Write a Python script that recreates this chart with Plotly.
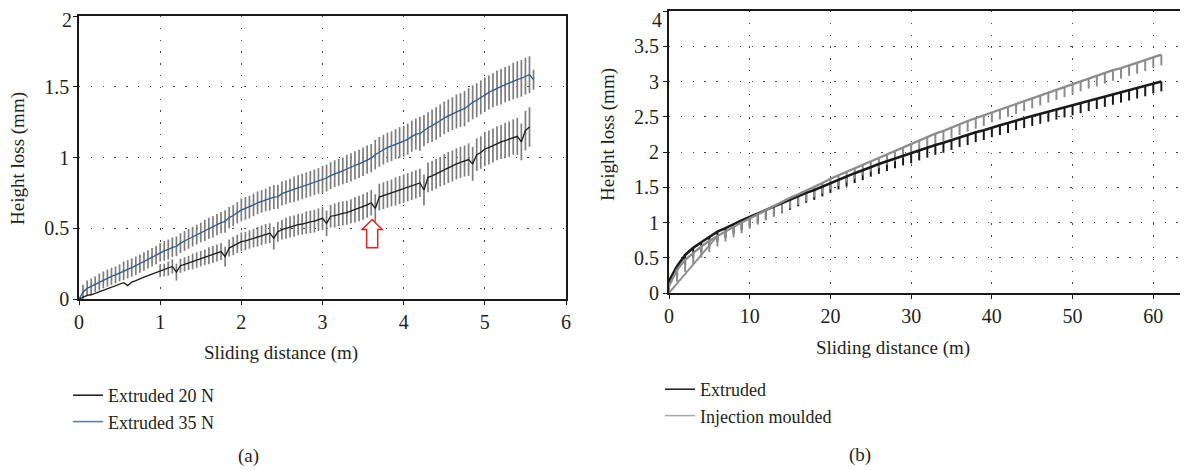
import plotly.graph_objects as go

# ---------------- data: panel (a) ----------------
dist_a = [round(0.05 * i, 2) for i in range(113)]

ext35 = [0.000, 0.050, 0.075, 0.090, 0.105, 0.120, 0.135, 0.148, 0.160, 0.170,
         0.185, 0.200, 0.210, 0.222, 0.235, 0.250, 0.265, 0.280, 0.295, 0.310,
         0.330, 0.340, 0.350, 0.365, 0.372, 0.395, 0.410, 0.425, 0.440, 0.455,
         0.470, 0.485, 0.500, 0.510, 0.525, 0.540, 0.548, 0.575, 0.590, 0.610,
         0.630, 0.640, 0.650, 0.665, 0.680, 0.690, 0.700, 0.710, 0.720, 0.722,
         0.745, 0.755, 0.765, 0.775, 0.785, 0.795, 0.805, 0.815, 0.825, 0.835,
         0.845, 0.855, 0.872, 0.885, 0.895, 0.905, 0.920, 0.930, 0.945, 0.955,
         0.970, 0.985, 0.995, 1.020, 1.040, 1.055, 1.070, 1.080, 1.095, 1.105,
         1.115, 1.130, 1.150, 1.165, 1.168, 1.190, 1.210, 1.225, 1.240, 1.260,
         1.280, 1.295, 1.310, 1.325, 1.335, 1.345, 1.370, 1.390, 1.405, 1.425,
         1.445, 1.460, 1.475, 1.490, 1.500, 1.515, 1.525, 1.540, 1.550, 1.560,
         1.575, 1.585, 1.550]

ext35_err = [0.00, 0.05, 0.055, 0.055, 0.055, 0.06, 0.06, 0.06, 0.06, 0.06,
             0.06, 0.065, 0.065, 0.065, 0.065, 0.065, 0.065, 0.065, 0.065, 0.065,
             0.065, 0.07, 0.07, 0.07, 0.07, 0.07, 0.07, 0.07, 0.07, 0.07,
             0.07, 0.075, 0.075, 0.075, 0.075, 0.075, 0.08, 0.075, 0.075, 0.075,
             0.08, 0.08, 0.08, 0.08, 0.08, 0.08, 0.08, 0.085, 0.085, 0.085,
             0.085, 0.085, 0.085, 0.09, 0.09, 0.09, 0.09, 0.09, 0.09, 0.09,
             0.095, 0.095, 0.095, 0.095, 0.095, 0.095, 0.10, 0.10, 0.10, 0.10,
             0.10, 0.10, 0.10, 0.105, 0.105, 0.105, 0.105, 0.105, 0.105, 0.11,
             0.11, 0.11, 0.11, 0.11, 0.12, 0.11, 0.11, 0.115, 0.115, 0.115,
             0.115, 0.115, 0.115, 0.12, 0.12, 0.125, 0.12, 0.12, 0.12, 0.12,
             0.12, 0.12, 0.12, 0.125, 0.125, 0.125, 0.125, 0.13, 0.13, 0.13,
             0.13, 0.13, 0.07]

ext20 = [0.000, 0.015, 0.025, 0.030, 0.040, 0.050, 0.060, 0.070, 0.080, 0.090,
         0.100, 0.115, 0.095, 0.120, 0.130, 0.145, 0.155, 0.165, 0.175, 0.190,
         0.200, 0.205, 0.215, 0.230, 0.190, 0.235, 0.245, 0.255, 0.265, 0.275,
         0.285, 0.295, 0.305, 0.315, 0.325, 0.335, 0.300, 0.360, 0.375, 0.390,
         0.405, 0.410, 0.420, 0.430, 0.440, 0.450, 0.460, 0.465, 0.430, 0.475,
         0.490, 0.500, 0.510, 0.515, 0.525, 0.530, 0.540, 0.545, 0.550, 0.560,
         0.570, 0.535, 0.585, 0.590, 0.600, 0.605, 0.610, 0.620, 0.630, 0.640,
         0.650, 0.665, 0.680, 0.640, 0.720, 0.730, 0.740, 0.750, 0.760, 0.770,
         0.780, 0.790, 0.800, 0.810, 0.820, 0.770, 0.860, 0.870, 0.885, 0.900,
         0.915, 0.930, 0.940, 0.955, 0.965, 0.975, 0.985, 0.955, 1.020, 1.035,
         1.060, 1.070, 1.085, 1.100, 1.110, 1.120, 1.130, 1.145, 1.150, 1.110,
         1.190, 1.215]

ext20_err = [0, 0, 0, 0, 0, 0, 0, 0, 0, 0,
             0, 0, 0, 0, 0, 0, 0, 0, 0, 0,
             0.045, 0.045, 0.05, 0.05, 0.06, 0.05, 0.05, 0.05, 0.055, 0.055,
             0.055, 0.055, 0.06, 0.06, 0.06, 0.06, 0.07, 0.06, 0.065, 0.065,
             0.065, 0.065, 0.065, 0.065, 0.07, 0.07, 0.07, 0.07, 0.08, 0.07,
             0.07, 0.075, 0.075, 0.075, 0.075, 0.075, 0.08, 0.08, 0.08, 0.08,
             0.08, 0.09, 0.08, 0.085, 0.085, 0.085, 0.085, 0.085, 0.09, 0.09,
             0.09, 0.09, 0.09, 0.10, 0.095, 0.095, 0.095, 0.095, 0.10, 0.10,
             0.10, 0.10, 0.10, 0.10, 0.10, 0.11, 0.105, 0.105, 0.105, 0.105,
             0.11, 0.11, 0.11, 0.11, 0.11, 0.11, 0.115, 0.12, 0.115, 0.115,
             0.12, 0.12, 0.12, 0.12, 0.12, 0.125, 0.125, 0.125, 0.13, 0.13,
             0.14, 0.14]

ticks_a_y = [0, 0.5, 1, 1.5, 2]
ticklabels_a_y = ["0", "0.5", "1", "1.5", "2"]

# ---------------- data: panel (b) ----------------
dist_b = [0, 1, 2, 3, 4, 5, 6, 7, 8, 9, 10, 11, 12, 13, 14, 15, 16, 17, 18, 19,
          20, 21, 22, 23, 24, 25, 26, 27, 28, 29, 30, 31, 32, 33, 34, 35, 36, 37, 38, 39,
          40, 41, 42, 43, 44, 45, 46, 47, 48, 49, 50, 51, 52, 53, 54, 55, 56, 57, 58, 59,
          60, 61]

extruded = [0.17, 0.38, 0.54, 0.64, 0.72, 0.80, 0.87, 0.92, 0.98, 1.03,
            1.08, 1.13, 1.18, 1.23, 1.27, 1.32, 1.37, 1.42, 1.46, 1.51,
            1.56, 1.61, 1.65, 1.70, 1.74, 1.79, 1.83, 1.87, 1.91, 1.95,
            1.98, 2.02, 2.06, 2.10, 2.13, 2.17, 2.21, 2.24, 2.28, 2.31,
            2.35, 2.38, 2.41, 2.45, 2.48, 2.51, 2.54, 2.57, 2.60, 2.63,
            2.66, 2.69, 2.72, 2.75, 2.78, 2.81, 2.84, 2.87, 2.90, 2.93,
            2.97, 3.00]

extruded_err = [0.12, 0.14, 0.14, 0.14, 0.14, 0.14, 0.14, 0.14, 0.14, 0.14,
                0.14, 0.14, 0.14, 0.14, 0.14, 0.14, 0.14, 0.14, 0.14, 0.14,
                0.14, 0.14, 0.14, 0.14, 0.14, 0.14, 0.14, 0.14, 0.14, 0.14,
                0.14, 0.14, 0.14, 0.14, 0.14, 0.14, 0.14, 0.14, 0.14, 0.14,
                0.14, 0.14, 0.14, 0.14, 0.14, 0.14, 0.14, 0.14, 0.14, 0.14,
                0.14, 0.14, 0.14, 0.14, 0.14, 0.14, 0.14, 0.14, 0.14, 0.14,
                0.14, 0.14]

injection = [0.10, 0.33, 0.47, 0.57, 0.66, 0.74, 0.81, 0.88, 0.94, 1.00,
             1.06, 1.12, 1.18, 1.23, 1.29, 1.35, 1.40, 1.45, 1.51, 1.56,
             1.62, 1.67, 1.72, 1.77, 1.82, 1.87, 1.92, 1.97, 2.02, 2.07,
             2.12, 2.17, 2.21, 2.26, 2.30, 2.35, 2.39, 2.44, 2.48, 2.52,
             2.57, 2.61, 2.65, 2.69, 2.73, 2.77, 2.81, 2.85, 2.89, 2.93,
             2.97, 3.01, 3.05, 3.08, 3.12, 3.16, 3.19, 3.23, 3.26, 3.30,
             3.34, 3.38]

injection_err = [0.10, 0.17, 0.17, 0.17, 0.16, 0.16, 0.15, 0.15, 0.15, 0.15,
                 0.15, 0.15, 0.15, 0.15, 0.15, 0.15, 0.15, 0.15, 0.15, 0.15,
                 0.15, 0.15, 0.15, 0.15, 0.15, 0.15, 0.15, 0.15, 0.15, 0.15,
                 0.15, 0.15, 0.15, 0.15, 0.15, 0.15, 0.15, 0.15, 0.15, 0.15,
                 0.15, 0.15, 0.15, 0.15, 0.15, 0.15, 0.15, 0.15, 0.15, 0.15,
                 0.15, 0.15, 0.15, 0.15, 0.15, 0.15, 0.15, 0.15, 0.15, 0.15,
                 0.15, 0.15]

# initial straight segment of the injection moulded trace
injection_start_x = [0, 6]
injection_start_y = [0.0, 0.81]

ticks_b_y = [0, 0.5, 1, 1.5, 2, 2.5, 3, 3.5, 4]
ticklabels_b_y = ["0", "0.5", "1", "1.5", "2", "2.5", "3", "3.5", "4"]

legend_a = ["Extruded 20 N", "Extruded 35 N"]
legend_b = ["Extruded", "Injection moulded"]

# ---------------- styling ----------------
FONT = "Liberation Serif"
TXT = "#231f20"
BLUE = "#2d5a8c"
OFF = 8                      # page body margin offsets the figure by 8 px
W, H = 1188 - OFF, 470 - OFF

fig = go.Figure()

# panel (a) error bars (drawn first so lines lie on top)
for y, e in [(ext20, ext20_err), (ext35, ext35_err)]:
    fig.add_trace(go.Scatter(
        x=dist_a[:len(y)], y=y, mode="lines", line=dict(width=0, color="rgba(0,0,0,0)"),
        error_y=dict(type="data", array=e, color="#7d7d7d", thickness=1.7, width=0),
        showlegend=False, hoverinfo="skip", xaxis="x", yaxis="y"))

fig.add_trace(go.Scatter(
    x=dist_a[:len(ext20)], y=ext20, mode="lines", showlegend=False,
    line=dict(color="#1a1a1a", width=1.3), xaxis="x", yaxis="y"))
fig.add_trace(go.Scatter(
    x=dist_a, y=ext35, mode="lines", showlegend=False,
    line=dict(color=BLUE, width=1.3), xaxis="x", yaxis="y"))

# panel (b)
fig.add_trace(go.Scatter(
    x=dist_b, y=extruded, mode="lines", line=dict(width=0, color="rgba(0,0,0,0)"),
    error_y=dict(type="data", symmetric=False, array=[0] * len(extruded),
                 arrayminus=extruded_err, color="#1a1a1a", thickness=2, width=0),
    showlegend=False, hoverinfo="skip", xaxis="x2", yaxis="y2"))
fig.add_trace(go.Scatter(
    x=dist_b, y=injection, mode="lines", line=dict(width=0, color="rgba(0,0,0,0)"),
    error_y=dict(type="data", symmetric=False, array=[0] * len(injection),
                 arrayminus=injection_err, color="#8c8c8c", thickness=2, width=0),
    showlegend=False, hoverinfo="skip", xaxis="x2", yaxis="y2"))
fig.add_trace(go.Scatter(
    x=dist_b, y=extruded, mode="lines", showlegend=False,
    line=dict(color="#1a1a1a", width=2.6), xaxis="x2", yaxis="y2"))
fig.add_trace(go.Scatter(
    x=dist_b, y=injection, mode="lines", showlegend=False,
    line=dict(color="#8c8c8c", width=2.3), xaxis="x2", yaxis="y2"))
fig.add_trace(go.Scatter(
    x=injection_start_x, y=injection_start_y, mode="lines",
    line=dict(color="#8c8c8c", width=1.8), showlegend=False, hoverinfo="skip",
    xaxis="x2", yaxis="y2"))

# legend entries (thin line samples as in the reference)
for name, col, lg in [(legend_a[0], "#1a1a1a", "legend"), (legend_a[1], "#5a7aa3", "legend"),
                      (legend_b[0], "#1a1a1a", "legend2"), (legend_b[1], "#a6a6a6", "legend2")]:
    fig.add_trace(go.Scatter(x=[None], y=[None], mode="lines", name=name,
                             line=dict(color=col, width=1.5), legend=lg,
                             xaxis="x", yaxis="y"))

TICK_SIZE = 20
tickfont = dict(family=FONT, size=TICK_SIZE, color=TXT)
grid = dict(showgrid=True, gridcolor="#444444", gridwidth=1.3, griddash="1.3px,10.5px")


def px_x(v):
    return (v - OFF) / W


def px_y(v):
    return 1 - (v - OFF) / H


axis_common = dict(showline=True, linecolor="#1a1a1a", mirror=True, ticks="outside",
                   ticklen=4, tickcolor="#1a1a1a", zeroline=False, tickfont=tickfont,
                   automargin=False, **grid)

# the topmost y label would fall into the page margin, so it is set as a text placed just inside
fig.update_layout(
    template="none",
    width=W, height=H, margin=dict(l=0, r=0, t=0, b=0, pad=0),
    paper_bgcolor="white", plot_bgcolor="white",
    font=dict(family=FONT, size=19, color=TXT),
    xaxis=dict(domain=[px_x(79), px_x(566)], range=[0, 6], dtick=1, anchor="y",
               linewidth=1.5, **axis_common),
    yaxis=dict(domain=[px_y(299), px_y(16)], range=[0, 2], tickvals=ticks_a_y,
               ticktext=ticklabels_a_y[:-1] + [""], anchor="x",
               linewidth=1.5, **axis_common),
    xaxis2=dict(domain=[px_x(669), 1.0], range=[0, 64.3], tickvals=[0, 10, 20, 30, 40, 50, 60],
                anchor="y2", linewidth=2.2, **axis_common),
    yaxis2=dict(domain=[px_y(293), px_y(11)], range=[0, 4], tickvals=ticks_b_y,
                ticktext=ticklabels_b_y[:-1] + [""], anchor="x2",
                linewidth=2.2, **axis_common),
    legend=dict(x=px_x(68), y=px_y(377), xanchor="left", yanchor="top",
                font=dict(family=FONT, size=18, color=TXT), bgcolor="rgba(0,0,0,0)",
                tracegroupgap=0, itemwidth=30),
    legend2=dict(x=px_x(660), y=px_y(371), xanchor="left", yanchor="top",
                 font=dict(family=FONT, size=18, color=TXT), bgcolor="rgba(0,0,0,0)",
                 tracegroupgap=0, itemwidth=30),
    showlegend=True,
)

annos = [
    dict(text="Sliding distance (m)", x=px_x(281), y=px_y(353)),
    dict(text="Sliding distance (m)", x=px_x(893), y=px_y(348)),
    dict(text="(a)", x=px_x(248), y=px_y(456)),
    dict(text="(b)", x=px_x(860), y=px_y(455)),
    dict(text="Height loss (mm)", x=px_x(18), y=px_y(159), textangle=-90),
    dict(text="Height loss (mm)", x=px_x(608), y=px_y(135), textangle=-90),
]
for a in annos:
    fig.add_annotation(xref="paper", yref="paper", showarrow=False,
                       xanchor="center", yanchor="middle",
                       font=dict(family=FONT, size=19, color=TXT), **a)

# top y tick labels
fig.add_annotation(xref="paper", yref="paper", x=px_x(73), y=1.0, text=ticklabels_a_y[-1],
                   showarrow=False, xanchor="right", yanchor="top", borderpad=0,
                   font=tickfont)
fig.add_annotation(xref="paper", yref="paper", x=px_x(663), y=1.0, text=ticklabels_b_y[-1],
                   showarrow=False, xanchor="right", yanchor="top", borderpad=0,
                   font=tickfont)

# red hollow arrow pointing at the step in the 20 N curve
ax, tip, base, bot, hw, sw = 3.612, 0.562, 0.492, 0.362, 0.123, 0.068
path = (f"M {ax},{tip} L {ax + hw},{base} L {ax + sw},{base} L {ax + sw},{bot} "
        f"L {ax - sw},{bot} L {ax - sw},{base} L {ax - hw},{base} Z")
fig.add_shape(type="path", path=path, xref="x", yref="y",
              line=dict(color="#e02424", width=1.5), fillcolor="white")

fig.write_html("out.html")
